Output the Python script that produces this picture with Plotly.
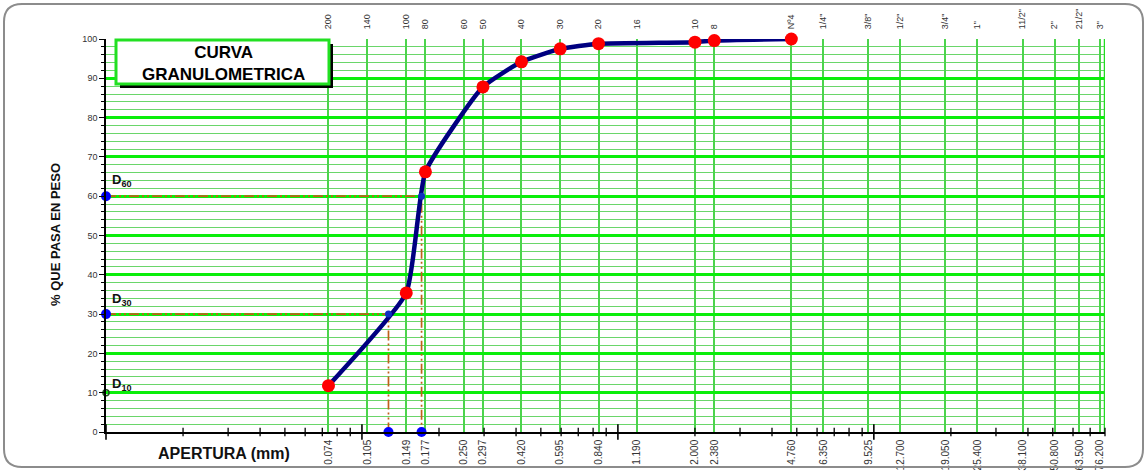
import numpy as np
import plotly.graph_objects as go

# ---------------- data ----------------
sieve_mm = [0.074, 0.105, 0.149, 0.177, 0.250, 0.297, 0.420, 0.595, 0.840, 1.190,
            2.000, 2.380, 4.760, 6.350, 9.525, 12.700, 19.050, 25.400, 38.100,
            50.800, 63.500, 76.200]
sieve_mm_labels = ["0.074", "0.105", "0.149", "0.177", "0.250", "0.297", "0.420",
                   "0.595", "0.840", "1.190", "2.000", "2.380", "4.760", "6.350",
                   "9.525", "12.700", "19.050", "25.400", "38.100", "50.800",
                   "63.500", "76.200"]
sieve_names = ["200", "140", "100", "80", "60", "50", "40", "30", "20", "16", "10",
               "8", "Nº4", '1/4"', '3/8"', '1/2"', '3/4"', '1"', '11/2"', '2"',
               '21/2"', '3"']

sample_mm = [0.074, 0.149, 0.177, 0.297, 0.420, 0.595, 0.840, 2.000, 2.380, 4.760]
sample_pass = [11.8, 35.4, 66.2, 87.8, 94.2, 97.5, 98.8, 99.2, 99.6, 100.0]

d_levels = [60, 30]
d_labels = ["D<sub>60</sub>", "D<sub>30</sub>", "D<sub>10</sub>"]
d_label_y = [64.0, 33.6, 12.2]

x_min, x_max = 0.01, 80.0

# ---------------- geometry ----------------
W, H = 1147, 471
L, R, T, B = 106, 42, 39, 39
PW, PH = W - L - R, H - T - B


def px(x):
    return (x - L) / PW


def py(y):
    return (H - B - y) / PH


FONT = "Liberation Sans, Arial, sans-serif"
NARROW = "Liberation Sans Narrow, Liberation Sans, Arial, sans-serif"

# D values by log interpolation of the curve
lg_mm = np.log10(sample_mm)
d_vals = [10 ** np.interp(lv, sample_pass, lg_mm) for lv in d_levels]

fig = go.Figure()

# right border of the grid
fig.add_trace(go.Scatter(x=[x_max, x_max], y=[0, 100], mode="lines",
                         line=dict(color="#22DD22", width=2.5),
                         hoverinfo="skip", showlegend=False, cliponaxis=False))

# dashed D lines
for lv, dv in zip(d_levels, d_vals):
    fig.add_trace(go.Scatter(x=[x_min, dv, dv], y=[lv, lv, 0], mode="lines",
                             line=dict(color="#C0601A", width=1.7,
                                       dash="10px,3px,2px,3px,2px,3px"),
                             hoverinfo="skip", showlegend=False))

# curve
fig.add_trace(go.Scatter(x=sample_mm, y=sample_pass, mode="lines",
                         line=dict(color="#000080", width=4.5, shape="spline",
                                   smoothing=0.45),
                         hoverinfo="skip", showlegend=False))
fig.add_trace(go.Scatter(x=sample_mm, y=sample_pass, mode="markers",
                         marker=dict(color="#FF0000", size=13),
                         hoverinfo="skip", showlegend=False, cliponaxis=False))

# D points
fig.add_trace(go.Scatter(x=d_vals, y=d_levels, mode="markers",
                         marker=dict(color="#1030C0", size=7),
                         hoverinfo="skip", showlegend=False))
fig.add_trace(go.Scatter(x=[x_min] * len(d_levels) + d_vals,
                         y=d_levels + [0] * len(d_vals), mode="markers",
                         marker=dict(color="#0000FF", size=10),
                         hoverinfo="skip", showlegend=False, cliponaxis=False))
fig.add_trace(go.Scatter(x=[x_min], y=[10], mode="markers",
                         marker=dict(color="rgba(0,0,0,0)", size=6,
                                     line=dict(color="#205020", width=1.5)),
                         hoverinfo="skip", showlegend=False, cliponaxis=False))

# log tick marks on bottom axis
decades = [10.0 ** e for e in range(-2, 2)]
minor_t = [d * k for d in decades for k in range(2, 10) if d * k <= x_max]
fig.add_trace(go.Scatter(x=minor_t, y=[0] * len(minor_t), mode="markers",
                         marker=dict(symbol="line-ns-open", size=6, color="black",
                                     line=dict(color="black", width=1.3)),
                         hoverinfo="skip", showlegend=False, cliponaxis=False))
fig.add_trace(go.Scatter(x=decades, y=[0] * len(decades), mode="markers",
                         marker=dict(symbol="line-ns-open", size=11, color="black",
                                     line=dict(color="black", width=1.6)),
                         hoverinfo="skip", showlegend=False, cliponaxis=False))

# invisible trace for the top axis
fig.add_trace(go.Scatter(x=sieve_mm, y=[50] * len(sieve_mm), mode="markers",
                         marker=dict(opacity=0), xaxis="x2",
                         hoverinfo="skip", showlegend=False))

lr = [np.log10(x_min), np.log10(x_max)]

# ---------------- shapes ----------------
shapes = []
# outer rounded border
x0, x1, y0, y1, r = 4, 1143, 4, 467, 18
pts = [
    ("M", (x0 + r, y0)), ("L", (x1 - r, y0)), ("Q", (x1, y0), (x1, y0 + r)),
    ("L", (x1, y1 - r)), ("Q", (x1, y1), (x1 - r, y1)), ("L", (x0 + r, y1)),
    ("Q", (x0, y1), (x0, y1 - r)), ("L", (x0, y0 + r)), ("Q", (x0, y0), (x0 + r, y0)),
]
path = ""
for p in pts:
    cmd = p[0]
    coords = " ".join(f"{px(a):.5f},{py(b):.5f}" for a, b in p[1:])
    path += f"{cmd} {coords} "
path += "Z"
shapes.append(dict(type="path", path=path, xref="paper", yref="paper",
                   line=dict(color="#8C8C8C", width=2)))
# title box shadow and box
shapes.append(dict(type="rect", xref="paper", yref="paper",
                   x0=px(120), x1=px(333), y0=py(88), y1=py(44),
                   fillcolor="black", line=dict(width=0), layer="above"))
shapes.append(dict(type="rect", xref="paper", yref="paper",
                   x0=px(116), x1=px(329), y0=py(84), y1=py(40),
                   fillcolor="white", line=dict(color="#22E022", width=3),
                   layer="above"))

# ---------------- annotations ----------------
ann = []
ann.append(dict(text="<b>CURVA<br>GRANULOMETRICA</b>", xref="paper", yref="paper",
                x=px(223), y=py(63), showarrow=False, xanchor="center",
                yanchor="middle", font=dict(family=FONT, size=17, color="black")))
ann.append(dict(text="<b>% QUE PASA EN PESO</b>", xref="paper", yref="paper",
                x=px(55), y=py(235), textangle=-90, showarrow=False,
                xanchor="center", yanchor="middle",
                font=dict(family=FONT, size=13, color="#111")))
ann.append(dict(text="<b>APERTURA (mm)</b>", xref="paper", yref="paper",
                x=px(224), y=py(453), showarrow=False, xanchor="center",
                yanchor="middle",
                font=dict(family=FONT, size=16, color="#111")))
for t, yv in zip(d_labels, d_label_y):
    ann.append(dict(text=f"<b>{t}</b>", xref="paper", yref="y", x=px(110), y=yv,
                    xanchor="left", yanchor="middle", showarrow=False,
                    font=dict(family=FONT, size=13, color="#111")))

fig.update_layout(
    width=W, height=H,
    margin=dict(l=L, r=R, t=T, b=B, autoexpand=False),
    paper_bgcolor="white", plot_bgcolor="white",
    shapes=shapes, annotations=ann,
    xaxis=dict(type="log", range=lr, tickmode="array", tickvals=sieve_mm,
               ticktext=sieve_mm_labels, tickangle=-90, showgrid=True,
               gridcolor="#4CD44C", gridwidth=1.5, ticks="outside", ticklen=2,
               tickcolor="rgba(0,0,0,0)", showline=True,
               linecolor="black", linewidth=1.6, zeroline=False,
               tickfont=dict(family=NARROW, size=10, color="#333"),
               automargin=False, fixedrange=True),
    xaxis2=dict(type="log", range=lr, overlaying="x", side="top",
                tickmode="array", tickvals=sieve_mm, ticktext=sieve_names,
                tickangle=-90, showgrid=False, ticks="outside", ticklen=7,
                tickcolor="rgba(0,0,0,0)", showline=False,
                zeroline=False, tickfont=dict(family=NARROW, size=9, color="#333"),
                automargin=False, fixedrange=True),
    yaxis=dict(range=[0, 100], tickmode="linear", tick0=0, dtick=10,
               showgrid=True, gridcolor="#0AEE0A", gridwidth=3,
               minor=dict(dtick=2, showgrid=True, gridcolor="#6AD66A",
                          gridwidth=1.3, ticks="outside", ticklen=3,
                          tickcolor="black"),
               ticks="outside", ticklen=5, tickcolor="black", showline=True,
               linecolor="black", linewidth=1.6, zeroline=False,
               tickfont=dict(family=FONT, size=9, color="#333"),
               automargin=False, fixedrange=True),
)

fig.write_html("out.html", config={"displayModeBar": False},
               post_script="document.body.style.margin='0';"
                           "document.body.style.overflow='hidden';")
